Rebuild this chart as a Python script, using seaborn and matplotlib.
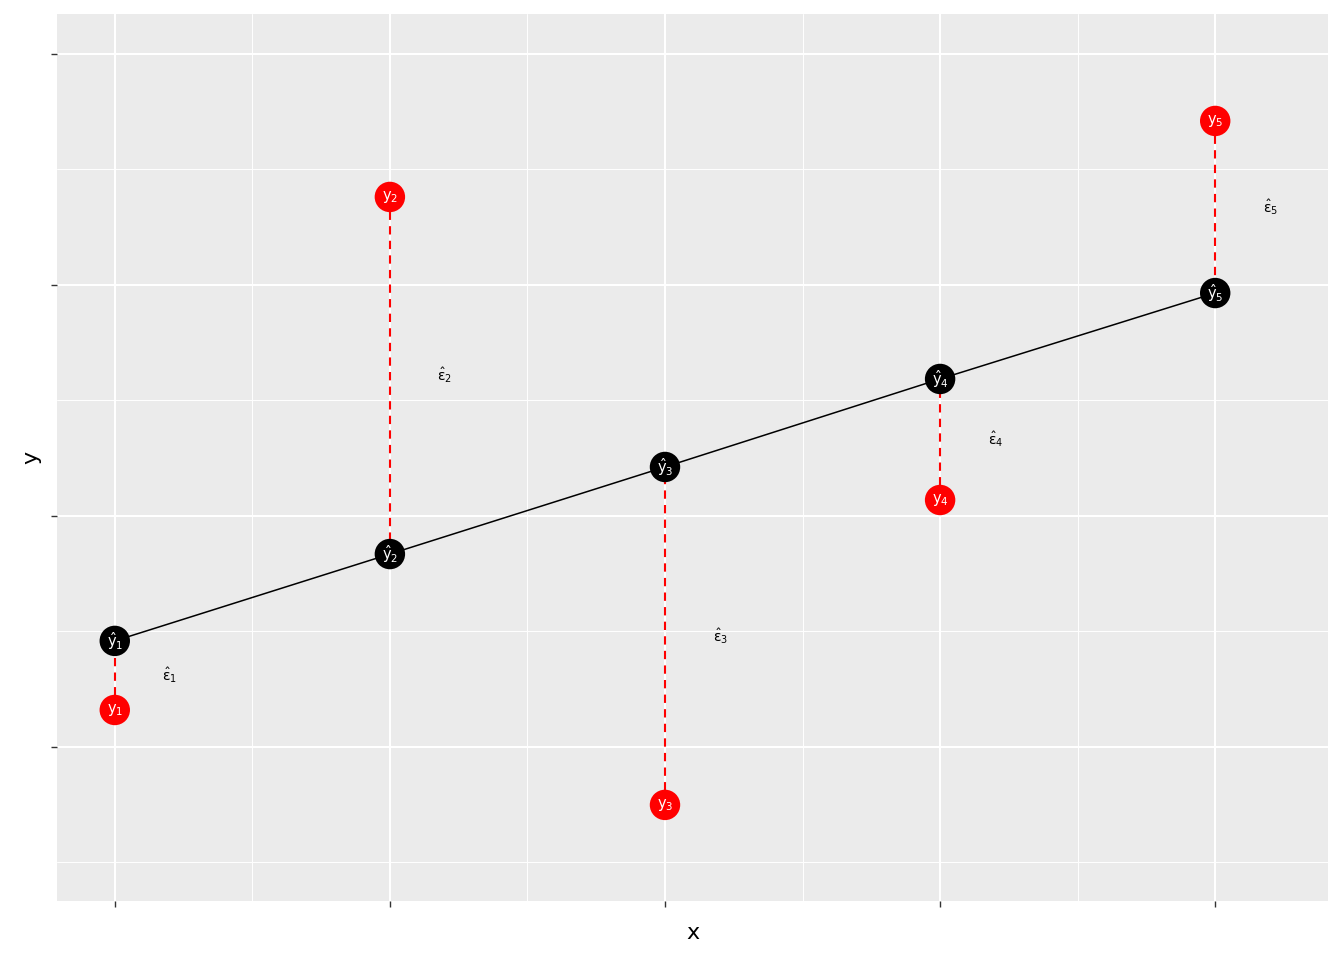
import matplotlib
matplotlib.use("Agg")
import matplotlib.pyplot as plt
import seaborn as sns
import numpy as np
import pandas as pd

x_vals = [1, 2, 3, 4, 5]
y_obs = [0.160, 2.381, -0.251, 1.069, 2.710]
y_fit = [0.459, 0.835, 1.212, 1.593, 1.965]
obs_labels = [r"$\mathrm{y}_{%d}$" % i for i in x_vals]
fit_labels = [r"$\hat{\mathrm{y}}_{%d}$" % i for i in x_vals]
eps_labels = [r"$\hat{\mathrm{\varepsilon}}_{%d}$" % i for i in x_vals]

df = pd.DataFrame({"x": x_vals, "y": y_obs, "yhat": y_fit})
df["mid"] = (df["y"] + df["yhat"]) / 2

sns.set_theme(style="darkgrid", rc={
    "axes.facecolor": "#EBEBEB",
    "grid.color": "white",
    "axes.edgecolor": "#EBEBEB",
})
plt.rcParams["font.family"] = ["DejaVu Sans"]
plt.rcParams["mathtext.fontset"] = "dejavusans"
plt.rcParams["mathtext.default"] = "regular"

fig = plt.figure(figsize=(13.44, 9.6), dpi=100)
ax = fig.add_axes([57 / 1344, 1 - 901 / 960, (1328 - 57) / 1344, (901 - 14) / 960])

# residual segments
ax.vlines(df["x"], df["y"], df["yhat"], colors="red", linestyles=(0, (4, 3)),
          linewidth=1.5, zorder=2)

# fitted line
sns.lineplot(data=df, x="x", y="yhat", color="black", linewidth=1.1, ax=ax, zorder=3)

# fitted and observed points
sns.scatterplot(data=df, x="x", y="yhat", color="black", s=480, edgecolor="none",
                ax=ax, zorder=4)
sns.scatterplot(data=df, x="x", y="y", color="red", s=480, edgecolor="none",
                ax=ax, zorder=4)

for xi, yo, yf, lo, lf in zip(df["x"], df["y"], df["yhat"], obs_labels, fit_labels):
    ax.text(xi, yo, lo, color="white", ha="center", va="center", fontsize=10.5, zorder=5)
    ax.text(xi, yf, lf, color="white", ha="center", va="center", fontsize=10.5, zorder=5)

for xi, ym, le in zip(df["x"], df["mid"], eps_labels):
    ax.text(xi + 0.2, ym, le, color="black", ha="center", va="center", fontsize=10, zorder=5)

ax.set_xlim(0.79, 5.41)
ax.set_ylim(-0.667, 3.173)
ax.set_xticks([1, 2, 3, 4, 5])
ax.set_xticks([1.5, 2.5, 3.5, 4.5], minor=True)
ax.set_yticks([0, 1, 2, 3])
ax.set_yticks([-0.5, 0.5, 1.5, 2.5], minor=True)
ax.set_xticklabels([])
ax.set_yticklabels([])
ax.grid(which="major", color="white", linewidth=1.5)
ax.grid(which="minor", color="white", linewidth=0.7)
ax.tick_params(which="major", length=4, width=1, color="#333333", bottom=True, left=True)
ax.tick_params(which="minor", length=0)
for s in ax.spines.values():
    s.set_visible(False)

ax.set_xlabel("x", fontsize=16, labelpad=8, color="black")
ax.set_ylabel("y", fontsize=16, labelpad=4, color="black")

fig.savefig("out.png", dpi=100)
